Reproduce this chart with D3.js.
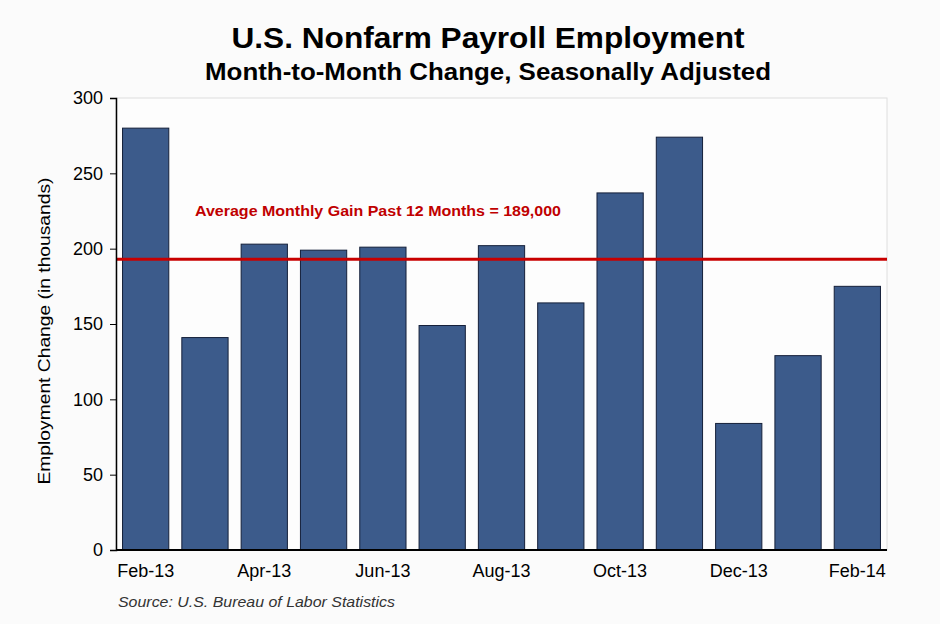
<!DOCTYPE html>
<html><head><meta charset="utf-8">
<script src="https://cdn.jsdelivr.net/npm/d3@7/dist/d3.min.js"></script>
<style>html,body{margin:0;padding:0;background:#fbfbfb;}svg{display:block;}</style>
</head><body>
<script>
const months = ["Feb-13","Mar-13","Apr-13","May-13","Jun-13","Jul-13","Aug-13","Sep-13","Oct-13","Nov-13","Dec-13","Jan-14","Feb-14"];
const changes = [280, 141, 203, 199, 201, 149, 202, 164, 237, 274, 84, 129, 175];
const yTicks = [0, 50, 100, 150, 200, 250, 300];
const xTickLabels = ["Feb-13","Apr-13","Jun-13","Aug-13","Oct-13","Dec-13","Feb-14"];
const averageLine = 193;
const averageLabel = "Average Monthly Gain Past 12 Months = 189,000";

const W = 940, H = 624;
const m = {left:116, right:53, top:98, bottom:74};
const svg = d3.select("body").append("svg").attr("width", W).attr("height", H);
svg.append("rect").attr("width", W).attr("height", H).attr("fill", "#fbfbfb");

const x = d3.scaleBand().domain(months).range([m.left, W - m.right]).paddingInner(0.22).paddingOuter(0.11);
const y = d3.scaleLinear().domain([0, 300]).range([H - m.bottom, m.top]);

// plot frame
svg.append("rect").attr("x", m.left).attr("y", m.top)
  .attr("width", W - m.right - m.left).attr("height", H - m.bottom - m.top)
  .attr("fill", "#fdfdfd").attr("stroke", "#dedede").attr("stroke-width", 1);

// bars
svg.selectAll("rect.bar").data(months).enter().append("rect").attr("class","bar")
  .attr("x", d => x(d)).attr("width", x.bandwidth())
  .attr("y", (d,i) => y(changes[i])).attr("height", (d,i) => y(0) - y(changes[i]))
  .attr("fill", "#3c5b8b").attr("stroke", "#15203a").attr("stroke-width", 1);

// average line
svg.append("line").attr("x1", m.left).attr("x2", W - m.right)
  .attr("y1", y(averageLine)).attr("y2", y(averageLine))
  .attr("stroke", "#c80000").attr("stroke-width", 3);

svg.append("text").attr("x", 195).attr("y", 216)
  .attr("font-family", "Liberation Sans, Arial, sans-serif").attr("font-weight", "bold")
  .attr("font-size", 14.5).attr("fill", "#c00000")
  .attr("textLength", 366).attr("lengthAdjust", "spacingAndGlyphs")
  .text(averageLabel);

// y axis
const yAxis = d3.axisLeft(y).tickValues(yTicks).tickSize(6).tickPadding(7).tickFormat(d3.format("d"));
const gy = svg.append("g").attr("transform", `translate(${m.left},0)`).call(yAxis);
gy.select(".domain").attr("stroke", "#000").attr("stroke-width", 1.5);
gy.selectAll(".tick line").attr("stroke", "#000");
gy.selectAll(".tick text").attr("font-family", "Liberation Sans, Arial, sans-serif").attr("font-size", 18).attr("fill", "#000");

// x axis
const xAxis = d3.axisBottom(x).tickValues(xTickLabels).tickSize(0).tickPadding(14);
const gx = svg.append("g").attr("transform", `translate(0,${H - m.bottom})`).call(xAxis);
gx.select(".domain").attr("stroke", "#000").attr("stroke-width", 2).attr("d", `M${m.left},0H${W - m.right}`);
gx.selectAll(".tick text").attr("font-family", "Liberation Sans, Arial, sans-serif").attr("font-size", 18).attr("fill", "#000");

// y axis title
svg.append("text").attr("transform", `translate(50,${331}) rotate(-90)`)
  .attr("text-anchor", "middle").attr("font-family", "Liberation Sans, Arial, sans-serif")
  .attr("font-size", 17).attr("fill", "#000")
  .attr("textLength", 307).attr("lengthAdjust", "spacingAndGlyphs")
  .text("Employment Change (in thousands)");

// titles
svg.append("text").attr("x", 488).attr("y", 48).attr("text-anchor", "middle")
  .attr("font-family", "Liberation Sans, Arial, sans-serif").attr("font-weight", "bold")
  .attr("font-size", 29).attr("fill", "#000")
  .attr("textLength", 513).attr("lengthAdjust", "spacingAndGlyphs")
  .text("U.S. Nonfarm Payroll Employment");
svg.append("text").attr("x", 488).attr("y", 80).attr("text-anchor", "middle")
  .attr("font-family", "Liberation Sans, Arial, sans-serif").attr("font-weight", "bold")
  .attr("font-size", 23).attr("fill", "#000")
  .attr("textLength", 566).attr("lengthAdjust", "spacingAndGlyphs")
  .text("Month-to-Month Change, Seasonally Adjusted");

// source
svg.append("text").attr("x", 118).attr("y", 607)
  .attr("font-family", "Liberation Sans, Arial, sans-serif").attr("font-style", "italic")
  .attr("font-size", 15).attr("fill", "#333")
  .attr("textLength", 277).attr("lengthAdjust", "spacingAndGlyphs")
  .text("Source: U.S. Bureau of Labor Statistics");
</script>
</body></html>
